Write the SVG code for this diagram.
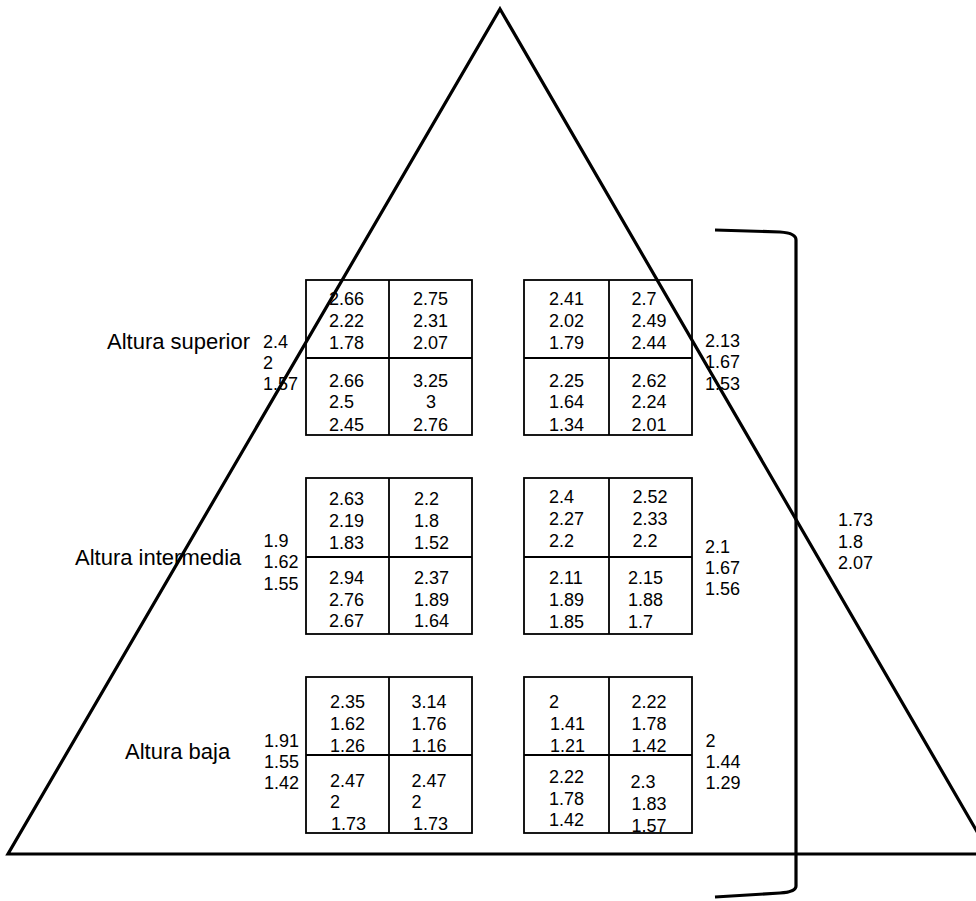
<svg xmlns="http://www.w3.org/2000/svg" width="976" height="901" viewBox="0 0 976 901">
<style>
.bg{fill:#fff}
.heavy{fill:none;stroke:#000;stroke-width:3.2;stroke-linejoin:miter;stroke-miterlimit:20}
.box{fill:none;stroke:#000;stroke-width:1.8}
.n{font-family:"Liberation Sans",Arial,sans-serif;font-size:18px;fill:#000}
.lbl{font-family:"Liberation Sans",Arial,sans-serif;font-size:22px;fill:#000}
</style>
<rect class="bg" x="0" y="0" width="976" height="901"/>

<g id="boxes">
  <g id="box-sup-left">
    <rect class="box" x="306" y="280" width="166" height="155"/>
    <line class="box" x1="389" y1="280" x2="389" y2="435"/>
    <line class="box" x1="306" y1="358" x2="472" y2="358"/>
    <text class="n" x="329" y="305">2.66</text>
    <text class="n" x="329" y="327">2.22</text>
    <text class="n" x="329" y="349">1.78</text>
    <text class="n" x="329" y="386.5">2.66</text>
    <text class="n" x="329" y="408">2.5</text>
    <text class="n" x="329" y="430.5">2.45</text>
    <text class="n" x="413" y="305">2.75</text>
    <text class="n" x="413" y="327">2.31</text>
    <text class="n" x="413" y="349">2.07</text>
    <text class="n" x="413" y="386.5">3.25</text>
    <text class="n" x="426" y="408">3</text>
    <text class="n" x="413" y="430.5">2.76</text>
  </g>
  <g id="box-sup-right">
    <rect class="box" x="524" y="280" width="168" height="155"/>
    <line class="box" x1="609" y1="280" x2="609" y2="435"/>
    <line class="box" x1="524" y1="358" x2="692" y2="358"/>
    <text class="n" x="549" y="305">2.41</text>
    <text class="n" x="549" y="327">2.02</text>
    <text class="n" x="549" y="349">1.79</text>
    <text class="n" x="549" y="386.5">2.25</text>
    <text class="n" x="549" y="408">1.64</text>
    <text class="n" x="549" y="430.5">1.34</text>
    <text class="n" x="631.5" y="305">2.7</text>
    <text class="n" x="631.5" y="327">2.49</text>
    <text class="n" x="631.5" y="349">2.44</text>
    <text class="n" x="631.5" y="386.5">2.62</text>
    <text class="n" x="631.5" y="408">2.24</text>
    <text class="n" x="631.5" y="430.5">2.01</text>
  </g>
  <g id="box-int-left">
    <rect class="box" x="306" y="478" width="166" height="156"/>
    <line class="box" x1="389" y1="478" x2="389" y2="634"/>
    <line class="box" x1="306" y1="557" x2="472" y2="557"/>
    <text class="n" x="329" y="505">2.63</text>
    <text class="n" x="329" y="527">2.19</text>
    <text class="n" x="329" y="548.5">1.83</text>
    <text class="n" x="329" y="583.5">2.94</text>
    <text class="n" x="329" y="605.5">2.76</text>
    <text class="n" x="329" y="627">2.67</text>
    <text class="n" x="414" y="505">2.2</text>
    <text class="n" x="414" y="527">1.8</text>
    <text class="n" x="414" y="548.5">1.52</text>
    <text class="n" x="414" y="583.5">2.37</text>
    <text class="n" x="414" y="605.5">1.89</text>
    <text class="n" x="414" y="627">1.64</text>
  </g>
  <g id="box-int-right">
    <rect class="box" x="524" y="478" width="168" height="156"/>
    <line class="box" x1="609" y1="478" x2="609" y2="634"/>
    <line class="box" x1="524" y1="557" x2="692" y2="557"/>
    <text class="n" x="549" y="503">2.4</text>
    <text class="n" x="549" y="525">2.27</text>
    <text class="n" x="549" y="547">2.2</text>
    <text class="n" x="549" y="584">2.11</text>
    <text class="n" x="549" y="606">1.89</text>
    <text class="n" x="549" y="628">1.85</text>
    <text class="n" x="632.5" y="503">2.52</text>
    <text class="n" x="632.5" y="525">2.33</text>
    <text class="n" x="632.5" y="547">2.2</text>
    <text class="n" x="628" y="584">2.15</text>
    <text class="n" x="628" y="606">1.88</text>
    <text class="n" x="628" y="628">1.7</text>
  </g>
  <g id="box-baja-left">
    <rect class="box" x="306" y="677" width="166" height="156"/>
    <line class="box" x1="389" y1="677" x2="389" y2="833"/>
    <line class="box" x1="306" y1="755" x2="472" y2="755"/>
    <text class="n" x="330" y="708">2.35</text>
    <text class="n" x="330" y="730">1.62</text>
    <text class="n" x="330" y="751.5">1.26</text>
    <text class="n" x="330" y="786.5">2.47</text>
    <text class="n" x="330" y="808">2</text>
    <text class="n" x="331" y="829.5">1.73</text>
    <text class="n" x="411.5" y="708">3.14</text>
    <text class="n" x="411.5" y="730">1.76</text>
    <text class="n" x="411.5" y="751.5">1.16</text>
    <text class="n" x="411.5" y="786.5">2.47</text>
    <text class="n" x="411.5" y="808">2</text>
    <text class="n" x="413" y="829.5">1.73</text>
  </g>
  <g id="box-baja-right">
    <rect class="box" x="524" y="677" width="168" height="156"/>
    <line class="box" x1="609" y1="677" x2="609" y2="833"/>
    <line class="box" x1="524" y1="755" x2="692" y2="755"/>
    <text class="n" x="549" y="708">2</text>
    <text class="n" x="550" y="730">1.41</text>
    <text class="n" x="550" y="752">1.21</text>
    <text class="n" x="549" y="783">2.22</text>
    <text class="n" x="549" y="804.5">1.78</text>
    <text class="n" x="549" y="826">1.42</text>
    <text class="n" x="631.5" y="708">2.22</text>
    <text class="n" x="631.5" y="730">1.78</text>
    <text class="n" x="631.5" y="752">1.42</text>
    <text class="n" x="630.5" y="788">2.3</text>
    <text class="n" x="631.5" y="810">1.83</text>
    <text class="n" x="631.5" y="831.5">1.57</text>
  </g>
</g>

<g id="labels">
  <g id="label-superior">
    <text class="lbl" x="107" y="349">Altura superior</text>
    <text class="n" x="263" y="348">2.4</text>
    <text class="n" x="263" y="369">2</text>
    <text class="n" x="263" y="390">1.57</text>
  </g>
  <g id="label-intermedia">
    <text class="lbl" x="75" y="565">Altura intermedia</text>
    <text class="n" x="263.5" y="546.5">1.9</text>
    <text class="n" x="263.5" y="568">1.62</text>
    <text class="n" x="263.5" y="590">1.55</text>
  </g>
  <g id="label-baja">
    <text class="lbl" x="125" y="759">Altura baja</text>
    <text class="n" x="264" y="746.5">1.91</text>
    <text class="n" x="264" y="767.5">1.55</text>
    <text class="n" x="264" y="788.5">1.42</text>
  </g>
  <g id="right-superior">
    <text class="n" x="705" y="346.5">2.13</text>
    <text class="n" x="705" y="368">1.67</text>
    <text class="n" x="705" y="390">1.53</text>
  </g>
  <g id="right-intermedia">
    <text class="n" x="705" y="553">2.1</text>
    <text class="n" x="705" y="574">1.67</text>
    <text class="n" x="705" y="595">1.56</text>
  </g>
  <g id="right-baja">
    <text class="n" x="705.5" y="746.5">2</text>
    <text class="n" x="705.5" y="767.5">1.44</text>
    <text class="n" x="705.5" y="788.5">1.29</text>
  </g>
  <g id="total">
    <text class="n" x="838" y="525.5">1.73</text>
    <text class="n" x="838" y="547.5">1.8</text>
    <text class="n" x="838" y="569">2.07</text>
  </g>
</g>

<g id="connectors">
  <path id="pyramid" class="heavy" d="M500,9 L990,854 L8,854 Z"/>
  <path id="bracket" class="heavy" d="M715,230 L780,232 Q796,233 796,240 L796,886 Q796,892 780,893 L715,897"/>
</g>
</svg>
